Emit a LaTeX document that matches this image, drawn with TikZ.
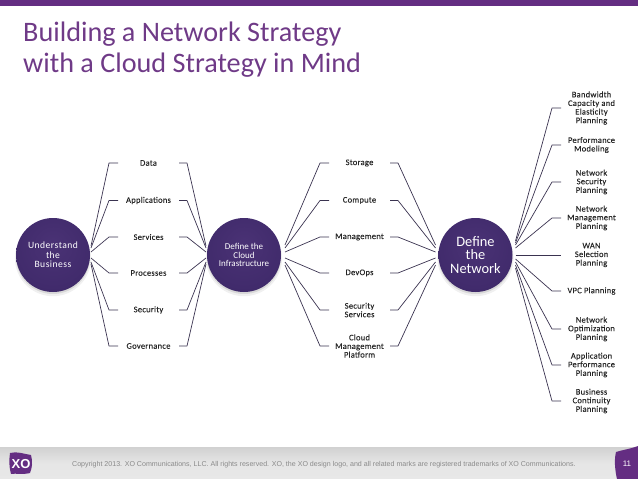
\documentclass[tikz,border=0pt]{standalone}
\usepackage{fontspec}
\setmainfont{Carlito}
\newfontfamily\lblfont[LetterSpace=3,FakeBold=0.08]{Carlito}
\newfontfamily\hubfont[LetterSpace=5]{Carlito}
\newfontfamily\footfont{Liberation Sans}
\usetikzlibrary{shadows,calc}
\definecolor{xopurple}{HTML}{642D82}
\definecolor{titlepurple}{HTML}{6F3A87}
\definecolor{circlelight}{HTML}{4A3275}
\definecolor{circlemid}{HTML}{412B6C}
\definecolor{circledark}{HTML}{2F1E56}
\definecolor{linecol}{HTML}{3A3350}
\definecolor{footgray}{HTML}{8A8A8A}
\pgfdeclareradialshading{hubshade}{\pgfpoint{0bp}{8bp}}{color(0bp)=(circlelight); color(26bp)=(circlemid); color(44bp)=(circledark); color(50bp)=(circledark)}
\tikzset{
  softshadow/.style={
    general shadow={fill=black,opacity=.06,shadow scale=1.03,shadow yshift=-3pt},
    general shadow={fill=black,opacity=.10,shadow scale=1.0,shadow yshift=-2pt}},
  hub/.style={circle,minimum size=74pt,inner sep=0pt,outer sep=3pt,align=center,text=white,
    softshadow,shading=hubshade},
  lbl/.style={inner sep=0pt,outer sep=0pt,align=center,minimum width=61pt,font=\lblfont\fontsize{8.5}{8.6}\selectfont,text=black!85},
  conn/.style={draw=linecol,line width=0.7pt,line join=round},
}
\begin{document}
\begin{tikzpicture}[x=1pt,y=-1pt]
\useasboundingbox (0,0) rectangle (638,479);
% header and footer
\fill[xopurple] (0,0) rectangle (638,6);
\node[anchor=north west,inner sep=0pt,align=left,text=titlepurple,font=\fontsize{28.2}{30.5}\selectfont] (title) at (23,22) {Building a Network Strategy\\with a Cloud Strategy in Mind};
\shade[top color=black!18,bottom color=black!9,middle color=black!10] (0,447) rectangle (638,479);
\fill[xopurple] (10,453) .. controls (17,451) and (24,454) .. (31,455) .. controls (33,462) and (32,468) .. (30,473) .. controls (22,475) and (16,473) .. (11,474) .. controls (9,467) and (9,460) .. (10,453) -- cycle;
\node[inner sep=0pt,text=white,font=\footfont\bfseries\fontsize{13}{13}\selectfont] (logo) at (21,464) {XO};
\node[inner sep=0pt,text=footgray,font=\footfont\fontsize{7.08}{8}\selectfont,anchor=west] (copy) at (72,464.5) {Copyright 2013. XO Communications, LLC. All rights reserved. XO, the XO design logo, and all related marks are registered trademarks of XO Communications.};
\fill[xopurple] (638,446) -- (638,479) -- (617,479) .. controls (615,470) and (614,460) .. (616,452) .. controls (622,450) and (630,449) .. (638,446) -- cycle;
\node[inner sep=0pt,text=white,font=\footfont\fontsize{8}{8}\selectfont] (pg) at (627,464) {11};
% hubs
\node[hub,font=\hubfont\fontsize{9.6}{9.6}\selectfont] (u) at (53,255) {Understand\\the\\Business};
\node[hub,font=\fontsize{9}{8.2}\selectfont] (c) at (244,255) {Define the\\Cloud\\Infrastructure};
\node[hub,font=\fontsize{14.4}{13.8}\selectfont] (n) at (475.5,255) {Define\\the\\Network};
% first column
\node[lbl] (a1) at (148.5,163) {Data};
\node[lbl] (a2) at (148.5,200.5) {Applications};
\node[lbl] (a3) at (148.5,237) {Services};
\node[lbl] (a4) at (148.5,273) {Processes};
\node[lbl] (a5) at (148.5,310) {Security};
\node[lbl] (a6) at (148.5,346) {Governance};
% second column
\node[lbl] (b1) at (359.5,163) {Storage};
\node[lbl] (b2) at (359.5,200.5) {Compute};
\node[lbl] (b3) at (359.5,237) {Management};
\node[lbl] (b4) at (359.5,273) {DevOps};
\node[lbl] (b5) at (359.5,310) {Security\\Services};
\node[lbl] (b6) at (359.5,346) {Cloud\\Management\\Platform};
% third column
\node[lbl] (d1) at (591.5,108) {Bandwidth\\Capacity and\\Elasticity\\Planning};
\node[lbl] (d2) at (591.5,145) {Performance\\Modeling};
\node[lbl] (d3) at (591.5,182) {Network\\Security\\Planning};
\node[lbl] (d4) at (591.5,218) {Network\\Management\\Planning};
\node[lbl] (d5) at (591.5,255) {WAN\\Selection\\Planning};
\node[lbl] (d6) at (591.5,291) {VPC Planning};
\node[lbl] (d7) at (591.5,329) {Network\\Optimization\\Planning};
\node[lbl] (d8) at (591.5,365) {Application\\Performance\\Planning};
\node[lbl] (d9) at (591.5,401) {Business\\Continuity\\Planning};
% connectors
\foreach \t/\off in {a1/-9,a2/-7,a3/-3,a4/3,a5/7,a6/9}{
  \draw[conn] ($(u.east)+(-2,\off)$) -- ($(\t.west)+(-9,0)$) -- (\t.west);
  \draw[conn] ($(c.west)+(2,\off)$) -- ($(\t.east)+(8,0)$) -- (\t.east);
}
\foreach \t/\off in {b1/-10,b2/-7,b3/-3,b4/3,b5/7,b6/10}{
  \draw[conn] ($(c.east)+(1,\off)$) -- ($(\t.west)+(-9,0)$) -- (\t.west);
  \draw[conn] ($(n.west)+(0,\off)$) -- ($(\t.east)+(8,0)$) -- (\t.east);
}
\foreach \t/\off in {d1/-14,d2/-12,d3/-10,d4/-7,d6/4,d7/7,d8/10,d9/13}{
  \draw[conn] ($(n.east)+(0,\off)$) -- ($(\t.west)+(-9,0)$) -- (\t.west);
}
\draw[conn] (n.east) -- (d5.west);
\end{tikzpicture}
\end{document}
